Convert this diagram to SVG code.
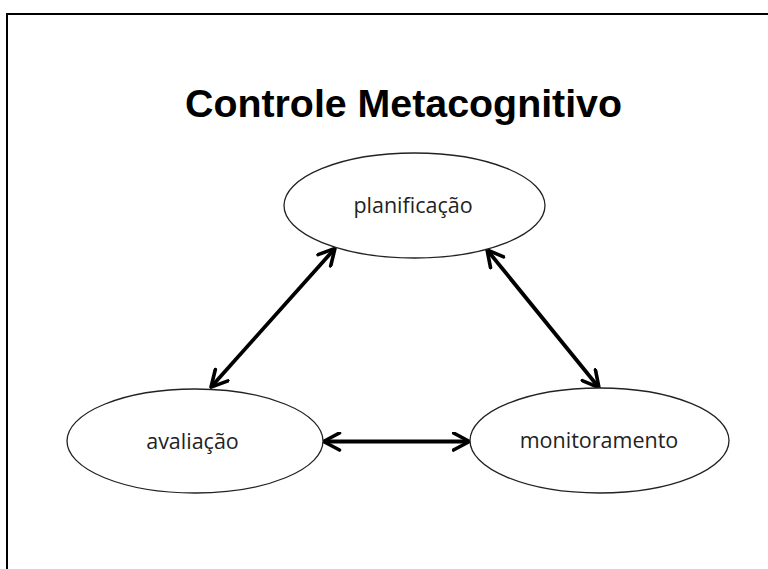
<svg xmlns="http://www.w3.org/2000/svg" width="768" height="569" viewBox="0 0 768 569">
  <style>
    .node ellipse { fill: #fff; stroke: #222; stroke-width: 1.3; }
    .node text { font-family: "Open Sans", "Noto Sans", sans-serif; font-size: 21.5px; fill: #222; text-anchor: middle; }
    .title { font-family: "Liberation Sans", Arial, sans-serif; font-weight: bold; font-size: 38px; fill: #000; text-anchor: middle; }
    .conn line { stroke: #000; stroke-width: 3.8; marker-start: url(#head); marker-end: url(#head); }
  </style>
  <defs>
    <!-- open chevron head, used at both ends of every connector -->
    <marker id="head" viewBox="0 0 20 20" refX="16.5" refY="10" markerWidth="20" markerHeight="20" markerUnits="userSpaceOnUse" orient="auto-start-reverse">
      <path d="M2,1.5 L18,10 L2,18.5" fill="none" stroke="#000" stroke-width="3.6" stroke-linecap="round" stroke-linejoin="round"/>
    </marker>
  </defs>
  <rect width="768" height="569" fill="#fff"/>
  <!-- slide frame -->
  <rect x="7" y="14" width="780" height="580" fill="none" stroke="#000" stroke-width="2"/>
  <text class="title" x="403.5" y="117" textLength="437" lengthAdjust="spacingAndGlyphs">Controle Metacognitivo</text>

  <g class="conn">
    <line x1="334" y1="249.5" x2="212" y2="386"/>
    <line x1="488" y1="251" x2="598" y2="386.5"/>
    <line x1="325" y1="441.5" x2="468" y2="441.5"/>
  </g>

  <g id="planificacao" class="node">
    <ellipse cx="414.5" cy="205.5" rx="130.5" ry="52.5"/>
    <text x="413" y="213">planificação</text>
  </g>
  <g id="avaliacao" class="node">
    <ellipse cx="195" cy="441" rx="128" ry="52"/>
    <text x="192.5" y="449">avaliação</text>
  </g>
  <g id="monitoramento" class="node">
    <ellipse cx="599.5" cy="440.5" rx="129.5" ry="52.5"/>
    <text x="599" y="448">monitoramento</text>
  </g>
</svg>
